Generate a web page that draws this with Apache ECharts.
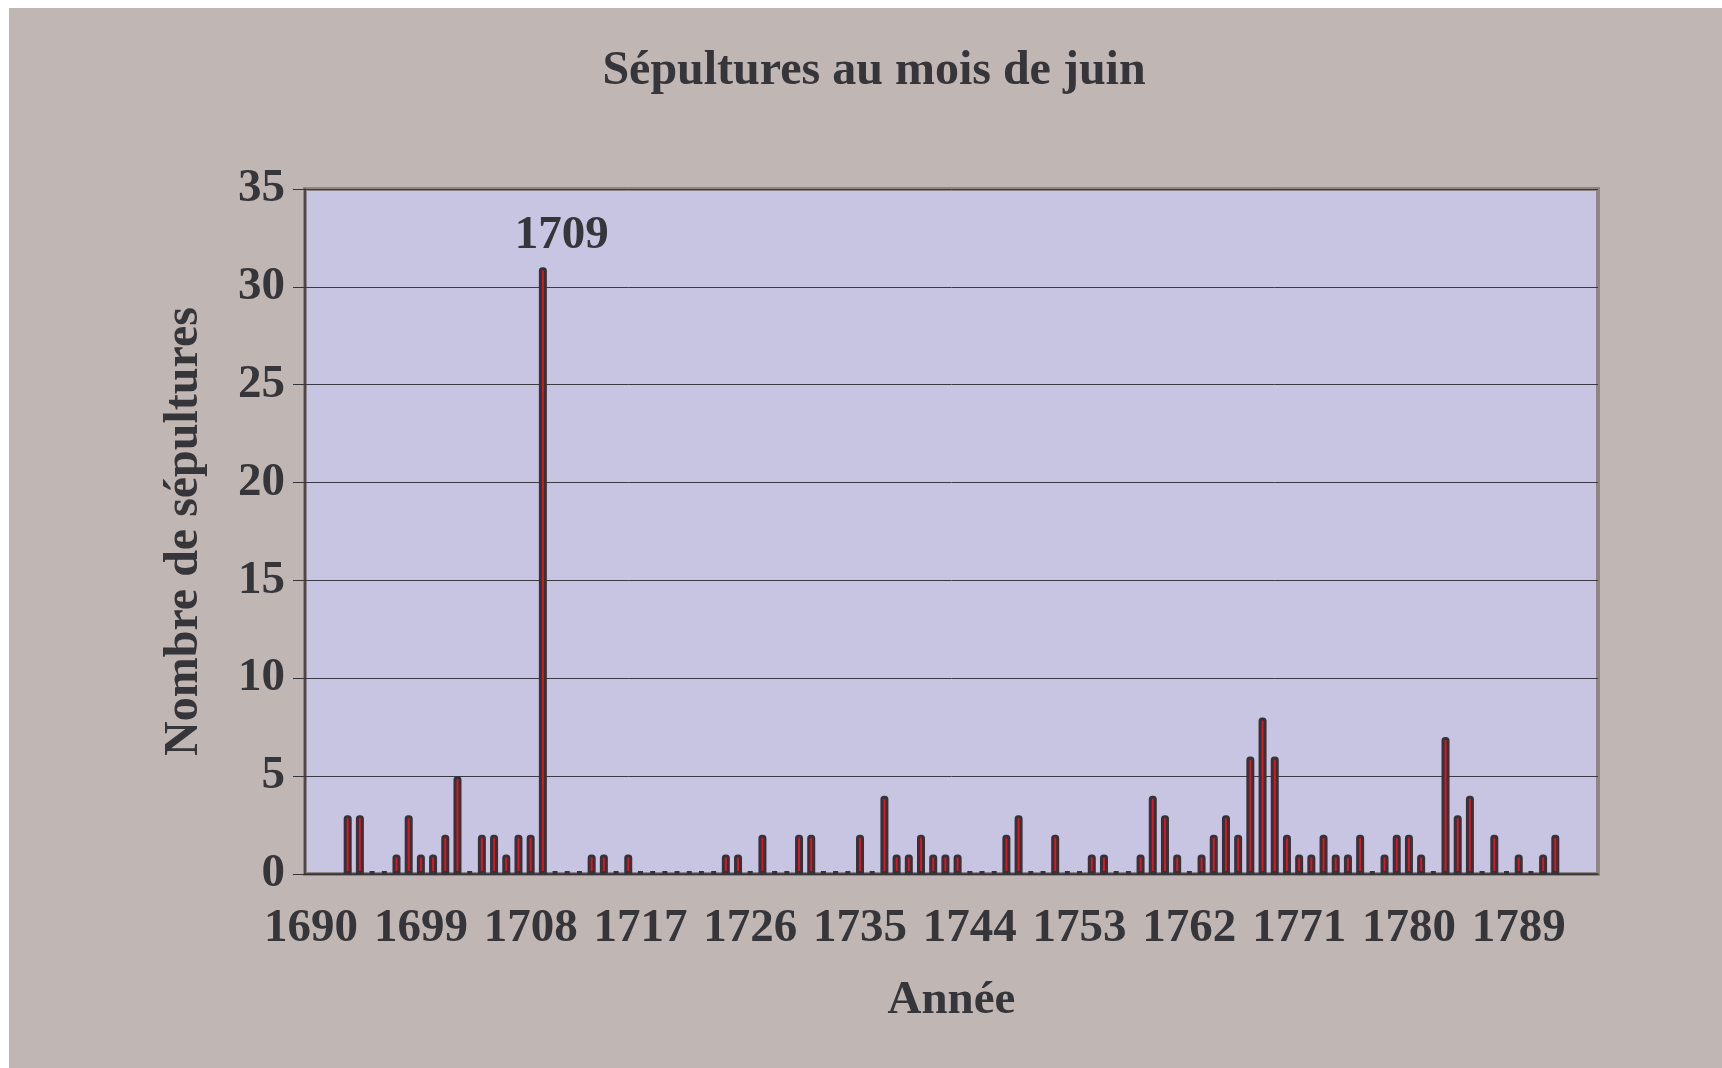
<!DOCTYPE html>
<html>

<head>
    <meta charset="UTF-8">
    <script src="https://cdn.jsdelivr.net/npm/echarts@6.0.0/dist/echarts.min.js"></script>
    <style>
        html, body { margin: 0; padding: 0; background: #ffffff; }
        #main { position: absolute; left: 9px; top: 8px; width: 1713px; height: 1060px; background: #c0b6b3; }
    </style>
</head>

<body>
    <div id="main"></div>
    <script>
        // années 1690 - 1795
        var annees = [
            '1690', '1691', '1692', '1693', '1694', '1695', '1696', '1697', '1698', '1699',
            '1700', '1701', '1702', '1703', '1704', '1705', '1706', '1707', '1708', '1709',
            '1710', '1711', '1712', '1713', '1714', '1715', '1716', '1717', '1718', '1719',
            '1720', '1721', '1722', '1723', '1724', '1725', '1726', '1727', '1728', '1729',
            '1730', '1731', '1732', '1733', '1734', '1735', '1736', '1737', '1738', '1739',
            '1740', '1741', '1742', '1743', '1744', '1745', '1746', '1747', '1748', '1749',
            '1750', '1751', '1752', '1753', '1754', '1755', '1756', '1757', '1758', '1759',
            '1760', '1761', '1762', '1763', '1764', '1765', '1766', '1767', '1768', '1769',
            '1770', '1771', '1772', '1773', '1774', '1775', '1776', '1777', '1778', '1779',
            '1780', '1781', '1782', '1783', '1784', '1785', '1786', '1787', '1788', '1789',
            '1790', '1791', '1792', '1793', '1794', '1795'
        ];
        // nombre de sépultures en juin (null = pas de donnée)
        var sepultures = [
            null, null, null, 3, 3, 0, 0, 1, 3, 1,
            1, 2, 5, 0, 2, 2, 1, 2, 2, 31,
            0, 0, 0, 1, 1, 0, 1, 0, 0, 0,
            0, 0, 0, 0, 1, 1, 0, 2, 0, 0,
            2, 2, 0, 0, 0, 2, 0, 4, 1, 1,
            2, 1, 1, 1, 0, 0, 0, 2, 3, 0,
            0, 2, 0, 0, 1, 1, 0, 0, 1, 4,
            3, 1, 0, 1, 2, 3, 2, 6, 8, 6,
            2, 1, 1, 2, 1, 1, 2, 0, 1, 2,
            2, 1, 0, 7, 3, 4, 0, 2, 0, 1,
            0, 1, 2, null, null, null
        ];
        var anneeMarquee = '1709';

        var texte = '#36353a';
        var police = '"Liberation Serif", "Times New Roman", serif';

        var myChart = echarts.init(document.getElementById('main'));

        var donnees = sepultures.map(function (v, i) {
            if (annees[i] === anneeMarquee) {
                return {
                    value: v,
                    label: {
                        show: true,
                        position: 'top',
                        distance: 8,
                        offset: [19, 0],
                        formatter: anneeMarquee,
                        color: texte,
                        fontFamily: police,
                        fontWeight: 'bold',
                        fontSize: 47
                    }
                };
            }
            return v;
        });

        var option = {
            animation: false,
            title: {
                text: 'Sépultures au mois de juin',
                left: 860,
                top: 35,
                textAlign: 'center',
                textStyle: {
                    color: texte,
                    fontFamily: police,
                    fontWeight: 'bold',
                    fontSize: 48
                }
            },
            grid: {
                left: 296,
                right: 124,
                top: 181,
                bottom: 194,
                show: true,
                backgroundColor: '#c7c5e2',
                borderColor: '#8f8583',
                borderWidth: 4
            },
            xAxis: {
                type: 'category',
                data: annees,
                name: 'Année',
                nameLocation: 'middle',
                nameGap: 103,
                nameTextStyle: {
                    color: texte,
                    fontFamily: police,
                    fontWeight: 'bold',
                    fontSize: 47
                },
                axisLine: { lineStyle: { color: '#36353a', width: 1.5 } },
                axisTick: { interval: 4, length: 12, lineStyle: { color: '#36353a' } },
                axisLabel: {
                    interval: 8,
                    margin: 31,
                    color: texte,
                    fontFamily: police,
                    fontWeight: 'bold',
                    fontSize: 47
                },
                splitLine: { show: false }
            },
            yAxis: {
                type: 'value',
                min: 0,
                max: 35,
                interval: 5,
                name: 'Nombre de sépultures',
                nameLocation: 'middle',
                nameGap: 96,
                nameTextStyle: {
                    color: texte,
                    fontFamily: police,
                    fontWeight: 'bold',
                    fontSize: 48
                },
                axisLine: { show: true, lineStyle: { color: '#36353a', width: 1.5 } },
                axisTick: { show: true, length: 12, lineStyle: { color: '#36353a' } },
                axisLabel: {
                    margin: 20,
                    color: texte,
                    fontFamily: police,
                    fontWeight: 'bold',
                    fontSize: 47
                },
                splitLine: { lineStyle: { color: '#3a3a42', width: 1 } }
            },
            series: [
                {
                    type: 'bar',
                    data: donnees,
                    barWidth: 8,
                    barMinHeight: 3,
                    itemStyle: {
                        color: '#e3121c',
                        borderColor: '#34333a',
                        borderWidth: 3,
                        borderRadius: [2, 2, 0, 0]
                    }
                }
            ]
        };

        option && myChart.setOption(option);
    </script>
</body>

</html>
